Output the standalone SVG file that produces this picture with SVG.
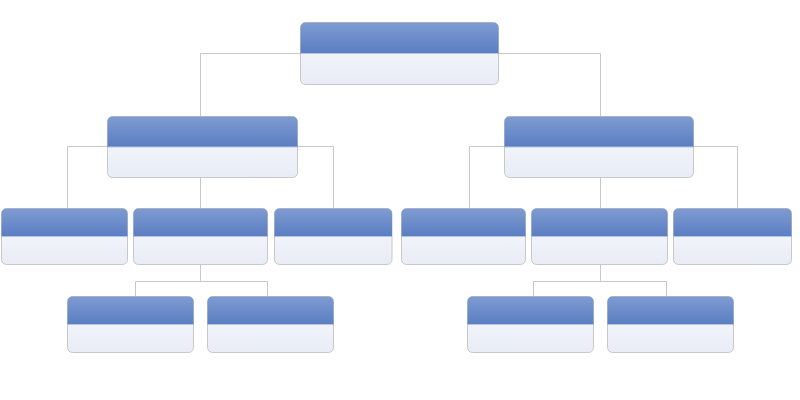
<svg xmlns="http://www.w3.org/2000/svg" width="800" height="400" viewBox="0 0 800 400">
<defs>
<linearGradient id="hd" x1="0" y1="0" x2="0" y2="1"><stop offset="0" stop-color="#7F9BD1"/><stop offset="1" stop-color="#5A7EC2"/></linearGradient>
<linearGradient id="bd" x1="0" y1="0" x2="0" y2="1"><stop offset="0" stop-color="#FAFBFE"/><stop offset="1" stop-color="#E8ECF6"/></linearGradient>
<style>
.body{fill:url(#bd);stroke:#C8C8C8;stroke-width:1}
.head{fill:url(#hd);stroke:none}
.sep{stroke:#B6C4E2;stroke-width:1}
.conn{fill:none;stroke:#C8C8C8;stroke-width:1}
</style>
</defs>
<rect width="800" height="400" fill="#FFFFFF"/>
<g id="connectors" class="conn">
<path d="M200.5,53.5 H600.5 M200.5,53.5 V116.5 M600.5,53.5 V116.5"/>
<path d="M67.5,146.5 H333.5 M67.5,146.5 V208.5 M333.5,146.5 V208.5 M200.5,177.5 V208.5"/>
<path d="M469.5,146.5 H737.5 M469.5,146.5 V208.5 M737.5,146.5 V208.5 M600.5,177.5 V208.5"/>
<path d="M200.5,264.5 V281.5 M135.5,281.5 H267.5 M135.5,281.5 V296.5 M267.5,281.5 V296.5"/>
<path d="M600.5,264.5 V281.5 M533.5,281.5 H666.5 M533.5,281.5 V296.5 M666.5,281.5 V296.5"/>
</g>
<g id="root">
<rect class="body" x="300.5" y="22.5" width="198" height="62" rx="5"/>
<path class="head" d="M300.5,53.5 V27.5 A5,5 0 0 1 305.5,22.5 H493.5 A5,5 0 0 1 498.5,27.5 V53.5 Z"/>
<path class="sep" d="M301,53.5 H498"/>
</g>
<g id="n2l">
<rect class="body" x="107.5" y="116.5" width="190" height="61" rx="5"/>
<path class="head" d="M107.5,147 V121.5 A5,5 0 0 1 112.5,116.5 H292.5 A5,5 0 0 1 297.5,121.5 V147 Z"/>
<path class="sep" d="M108,147 H297"/>
</g>
<g id="n2r">
<rect class="body" x="504.5" y="116.5" width="189" height="61" rx="5"/>
<path class="head" d="M504.5,147 V121.5 A5,5 0 0 1 509.5,116.5 H688.5 A5,5 0 0 1 693.5,121.5 V147 Z"/>
<path class="sep" d="M505,147 H693"/>
</g>
<g id="n3a">
<rect class="body" x="1.5" y="208.5" width="126" height="56" rx="5"/>
<path class="head" d="M1.5,236.5 V213.5 A5,5 0 0 1 6.5,208.5 H122.5 A5,5 0 0 1 127.5,213.5 V236.5 Z"/>
<path class="sep" d="M2,236.5 H127"/>
</g>
<g id="n3b">
<rect class="body" x="133.5" y="208.5" width="134" height="56" rx="5"/>
<path class="head" d="M133.5,236.5 V213.5 A5,5 0 0 1 138.5,208.5 H262.5 A5,5 0 0 1 267.5,213.5 V236.5 Z"/>
<path class="sep" d="M134,236.5 H267"/>
</g>
<g id="n3c">
<rect class="body" x="274.5" y="208.5" width="117.5" height="56" rx="5"/>
<path class="head" d="M274.5,236.5 V213.5 A5,5 0 0 1 279.5,208.5 H387 A5,5 0 0 1 392,213.5 V236.5 Z"/>
<path class="sep" d="M275,236.5 H391.5"/>
</g>
<g id="n3d">
<rect class="body" x="401.5" y="208.5" width="124" height="56" rx="5"/>
<path class="head" d="M401.5,236.5 V213.5 A5,5 0 0 1 406.5,208.5 H520.5 A5,5 0 0 1 525.5,213.5 V236.5 Z"/>
<path class="sep" d="M402,236.5 H525"/>
</g>
<g id="n3e">
<rect class="body" x="531.5" y="208.5" width="136" height="56" rx="5"/>
<path class="head" d="M531.5,236.5 V213.5 A5,5 0 0 1 536.5,208.5 H662.5 A5,5 0 0 1 667.5,213.5 V236.5 Z"/>
<path class="sep" d="M532,236.5 H667"/>
</g>
<g id="n3f">
<rect class="body" x="673.5" y="208.5" width="118" height="56" rx="5"/>
<path class="head" d="M673.5,236.5 V213.5 A5,5 0 0 1 678.5,208.5 H786.5 A5,5 0 0 1 791.5,213.5 V236.5 Z"/>
<path class="sep" d="M674,236.5 H791"/>
</g>
<g id="n4a">
<rect class="body" x="67.5" y="296.5" width="126" height="56" rx="5"/>
<path class="head" d="M67.5,324.5 V301.5 A5,5 0 0 1 72.5,296.5 H188.5 A5,5 0 0 1 193.5,301.5 V324.5 Z"/>
<path class="sep" d="M68,324.5 H193"/>
</g>
<g id="n4b">
<rect class="body" x="207.5" y="296.5" width="126" height="56" rx="5"/>
<path class="head" d="M207.5,324.5 V301.5 A5,5 0 0 1 212.5,296.5 H328.5 A5,5 0 0 1 333.5,301.5 V324.5 Z"/>
<path class="sep" d="M208,324.5 H333"/>
</g>
<g id="n4c">
<rect class="body" x="467.5" y="296.5" width="126" height="56" rx="5"/>
<path class="head" d="M467.5,324.5 V301.5 A5,5 0 0 1 472.5,296.5 H588.5 A5,5 0 0 1 593.5,301.5 V324.5 Z"/>
<path class="sep" d="M468,324.5 H593"/>
</g>
<g id="n4d">
<rect class="body" x="607.5" y="296.5" width="126" height="56" rx="5"/>
<path class="head" d="M607.5,324.5 V301.5 A5,5 0 0 1 612.5,296.5 H728.5 A5,5 0 0 1 733.5,301.5 V324.5 Z"/>
<path class="sep" d="M608,324.5 H733"/>
</g>
</svg>
